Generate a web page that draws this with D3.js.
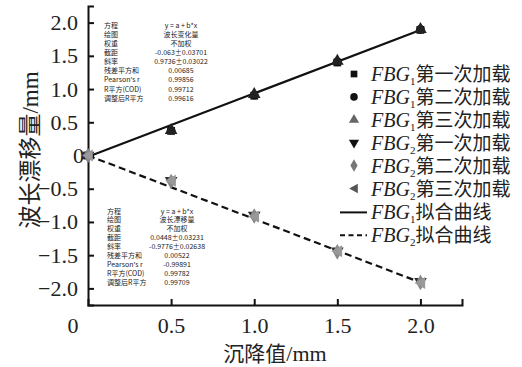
<!DOCTYPE html>
<html>
<head>
<meta charset="utf-8">
<script src="https://cdn.jsdelivr.net/npm/d3@7"></script>
<style>
  body { margin: 0; background: #fff; }
  svg { display: block; }
  .serif { font-family: "Liberation Serif", "DejaVu Serif", serif; }
  .cjk { font-family: "Noto Sans CJK SC", sans-serif; }
</style>
</head>
<body>
<svg id="chart" width="522" height="367"></svg>
<script>
// settlement values (mm)
const loads = [0, 0.5, 1.0, 1.5, 2.0];
const fbg1Run1 = [0, 0.37, 0.90, 1.40, 1.89];
const fbg1Run2 = [0, 0.38, 0.91, 1.41, 1.90];
const fbg1Run3 = [0, 0.38, 0.92, 1.42, 1.90];
const fbg2Run1 = [0, -0.38, -0.90, -1.44, -1.90];
const fbg2Run2 = [0, -0.39, -0.91, -1.45, -1.91];
const fbg2Run3 = [0, -0.38, -0.92, -1.44, -1.92];

// fitted line endpoints
const fitX = [0, 2.0];
const fbg1Fit = [-0.02, 1.89];
const fbg2Fit = [0.0, -1.91];

const xTicks = [0.5, 1.0, 1.5, 2.0];
const yTicks = [-2.0, -1.5, -1.0, -0.5, 0, 0.5, 1.0, 1.5, 2.0];

const seriesNames = ["第一次加载", "第二次加载", "第三次加载", "第一次加载", "第二次加载", "第三次加载"];

const fitLabels1 = ["方程", "绘图", "权重", "截距", "斜率", "残差平方和", "Pearson's r", "R平方(COD)", "调整后R平方"];
const fitValues1 = ["y = a + b*x", "波长变化量", "不加权", "-0.063±0.03701", "0.9736±0.03022", "0.00685", "0.99856", "0.99712", "0.99616"];
const fitValues2 = ["y = a + b*x", "波长漂移量", "不加权", "0.0448±0.03231", "-0.9776±0.02638", "0.00522", "-0.99891", "0.99782", "0.99709"];

let svg = d3.select("#chart");
let margin = { top: 6, right: 60, bottom: 62, left: 88 };
let width = +svg.attr("width") - margin.left - margin.right;
let height = +svg.attr("height") - margin.top - margin.bottom;
let g = svg.append("g").attr("transform", "translate(" + margin.left + "," + margin.top + ")");

let x = d3.scaleLinear().domain([0, 2.25]).range([0, width]);
let y = d3.scaleLinear().domain([-2.25, 2.25]).range([height, 0]);

function fmt(d) { return d === 0 ? "0" : d3.format(".1f")(d).replace("-", "\u2212"); }

// axes, ticks inward
let xAxis = g.append("g")
    .attr("transform", "translate(0," + height + ")")
    .call(d3.axisBottom(x).tickValues(xTicks).tickSize(-6).tickPadding(12).tickFormat(fmt));
let yAxis = g.append("g")
    .call(d3.axisLeft(y).tickValues(yTicks).tickSize(-6).tickPadding(10).tickFormat(fmt));

[xAxis, yAxis].forEach(function (a) {
    a.select(".domain").attr("stroke", "#111").attr("stroke-width", 2);
    a.selectAll(".tick line").attr("stroke", "#111").attr("stroke-width", 2);
    a.selectAll(".tick text")
        .attr("class", "serif")
        .attr("font-size", 22)
        .attr("fill", "#222");
});
yAxis.selectAll(".tick text").filter(function (d) { return d === 0; }).attr("x", -4);

// origin label on x axis
g.append("text")
    .attr("class", "serif")
    .attr("x", x(0) - 15)
    .attr("y", height + 12)
    .attr("dy", "0.71em")
    .attr("text-anchor", "middle")
    .attr("font-size", 22)
    .attr("fill", "#222")
    .text("0");

// axis titles
let xt = svg.append("text")
    .attr("x", 275)
    .attr("y", 361)
    .attr("text-anchor", "middle")
    .attr("fill", "#222");
xt.append("tspan").attr("class", "cjk").attr("font-size", 21).text("沉降值");
xt.append("tspan").attr("class", "serif").attr("font-size", 22).text("/mm");

let yt = svg.append("text")
    .attr("transform", "translate(38,150) rotate(-90)")
    .attr("text-anchor", "middle")
    .attr("fill", "#222");
yt.append("tspan").attr("class", "cjk").attr("font-size", 23).text("波长漂移量");
yt.append("tspan").attr("class", "serif").attr("font-size", 23).text("/mm");

// fit lines
let line = d3.line().x(function (d) { return x(d[0]); }).y(function (d) { return y(d[1]); });
g.append("path")
    .datum(d3.zip(fitX, fbg1Fit))
    .attr("d", line)
    .attr("fill", "none")
    .attr("stroke", "#111")
    .attr("stroke-width", 2.2);
g.append("path")
    .datum(d3.zip(fitX, fbg2Fit))
    .attr("d", line)
    .attr("fill", "none")
    .attr("stroke", "#111")
    .attr("stroke-width", 2.2)
    .attr("stroke-dasharray", "7,4");

// markers
let leftTri = { draw: function (ctx, size) {
    let r = Math.sqrt(size / 1.3) / 1.6 * 1.3;
    ctx.moveTo(-r, 0); ctx.lineTo(r * 0.8, -r); ctx.lineTo(r * 0.8, r); ctx.closePath();
} };
let series = [
    { values: fbg1Run1, symbol: d3.symbolSquare, color: "#111", size: 60 },
    { values: fbg1Run2, symbol: d3.symbolCircle, color: "#111", size: 60 },
    { values: fbg1Run3, symbol: d3.symbolTriangle, color: "#222", size: 70 },
    { values: fbg2Run1, symbol: d3.symbolTriangle, color: "#333", size: 70, rotate: 180 },
    { values: fbg2Run2, symbol: d3.symbolDiamond, color: "#888", size: 70 },
    { values: fbg2Run3, symbol: leftTri, color: "#999", size: 70 }
];
series.forEach(function (s) {
    g.selectAll(null)
        .data(d3.zip(loads, s.values))
        .enter().append("path")
        .attr("d", d3.symbol().type(s.symbol).size(s.size))
        .attr("transform", function (d) {
            return "translate(" + x(d[0]) + "," + y(d[1]) + ")" + (s.rotate ? " rotate(" + s.rotate + ")" : "");
        })
        .attr("fill", s.color);
});

// legend
let legendColors = ["#111", "#111", "#666", "#111", "#777", "#555"];
let lg = svg.append("g").attr("transform", "translate(354,74)");
series.forEach(function (s, i) {
    let row = lg.append("g").attr("transform", "translate(0," + (i * 22.9) + ")");
    row.append("path")
        .attr("d", d3.symbol().type(s.symbol).size(45))
        .attr("transform", s.rotate ? "rotate(" + s.rotate + ")" : null)
        .attr("fill", legendColors[i]);
    let t = row.append("text").attr("x", 17).attr("y", 7).attr("fill", "#222");
    t.append("tspan").attr("class", "serif").attr("font-style", "italic").attr("font-size", 20).text("FBG");
    t.append("tspan").attr("class", "serif").attr("font-size", 11).attr("dy", 4).text(i < 3 ? "1" : "2");
    t.append("tspan").attr("class", "cjk").attr("font-size", 19).attr("dy", -4).text(seriesNames[i]);
});
["拟合曲线", "拟合曲线"].forEach(function (name, i) {
    let row = lg.append("g").attr("transform", "translate(0," + ((6 + i) * 22.9 + 1) + ")");
    row.append("line")
        .attr("x1", -14).attr("x2", 13)
        .attr("stroke", "#111").attr("stroke-width", 2)
        .attr("stroke-dasharray", i === 1 ? "5,3.5" : null);
    let t = row.append("text").attr("x", 17).attr("y", 7).attr("fill", "#222");
    t.append("tspan").attr("class", "serif").attr("font-style", "italic").attr("font-size", 20).text("FBG");
    t.append("tspan").attr("class", "serif").attr("font-size", 11).attr("dy", 4).text(i === 0 ? "1" : "2");
    t.append("tspan").attr("class", "cjk").attr("font-size", 19).attr("dy", -4).text(name);
});

// fit result tables
function fitTable(x0, xc, y0, step, values) {
    let tg = svg.append("g").attr("font-size", 7).attr("fill", "#222");
    fitLabels1.forEach(function (lab, i) {
        tg.append("text").attr("class", "cjk").attr("x", x0).attr("y", y0 + i * step + 2.5).text(lab);
        tg.append("text").attr("class", "cjk").attr("x", xc).attr("y", y0 + i * step + 2.5)
            .attr("text-anchor", "middle").text(values[i]);
    });
}
fitTable(104, 181, 25, 9.15, fitValues1);
fitTable(107, 177, 211, 8.9, fitValues2);
</script>
</body>
</html>
